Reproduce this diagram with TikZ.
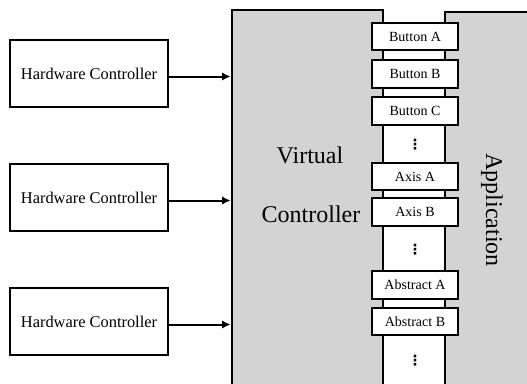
\documentclass[tikz,border=0pt]{standalone}
\usepackage{fontspec}
\setmainfont{Liberation Serif}
\newfontfamily\dotsfont{DejaVu Sans}
\usetikzlibrary{arrows.meta}
\definecolor{panelgray}{RGB}{211,211,211}
\tikzset{
    hwbox/.style = {
        draw,
        line width      = 2.8pt,
        inner sep       = 0pt,
        outer sep       = 0pt,
        minimum width   = 158pt,
        minimum height  = 67pt,
        font            = \fontsize{16.4}{18}\selectfont,
    },
    slot/.style = {
        draw,
        fill            = white,
        line width      = 2pt,
        inner sep       = 0pt,
        minimum width   = 86pt,
        minimum height  = 27.5pt,
        font            = \fontsize{14}{16}\selectfont,
    },
    panel/.style = {
        draw            = black,
        fill            = panelgray,
        line width      = 2.5pt,
    },
    bigtext/.style = {
        anchor          = base,
        font            = \fontsize{24}{28}\selectfont,
    },
    more/.style = {
        inner sep       = 0pt,
        font            = \dotsfont\bfseries\fontsize{14}{16}\selectfont,
    }
}

\begin{document}
\begin{tikzpicture}[x=1pt, y=-1pt, >={Latex[length=8.5pt,width=8.5pt]}]
  % page size of the reference, the panels run off its bottom
  \path[use as bounding box] (0,0) rectangle (527,383);

  \coordinate (vc) at (232,10);
  \coordinate (app) at (445,12);
  \filldraw[panel] (232,395) -- (vc) -- (383,10) -- (383,395);
  \filldraw[panel] (445,395) -- (app) -- (540,12) -- (540,395);

  \node[bigtext] (virt) at (310,163) {Virtual};
  \node[bigtext] (ctrl) at (311,222) {Controller};
  \node[bigtext, rotate=-90] (appl) at (486,210) {Application};

  \node[hwbox] (hw1) at (89,73.5) {Hardware Controller};
  \node[hwbox] (hw2) at (89,197.5) {Hardware Controller};
  \node[hwbox] (hw3) at (89,321.5) {Hardware Controller};

  \draw[->, line width=2pt, shorten >=1.5pt]
    ([yshift=-3pt]hw1.east) -- ([yshift=-3pt]hw1.east -| vc);
  \draw[->, line width=2pt, shorten >=1.5pt]
    ([yshift=-3pt]hw2.east) -- ([yshift=-3pt]hw2.east -| vc);
  \draw[->, line width=2pt, shorten >=1.5pt]
    ([yshift=-3pt]hw3.east) -- ([yshift=-3pt]hw3.east -| vc);

  \node[slot] (btna) at (415,36.5) {Button A};
  \node[slot] (btnb) at (415,74) {Button B};
  \node[slot] (btnc) at (415,111) {Button C};
  \node[more] (dots1) at (415,145) {⋮};
  \node[slot] (axsa) at (415,176.5) {Axis A};
  \node[slot] (axsb) at (415,212) {Axis B};
  \node[more] (dots2) at (415,250) {⋮};
  \node[slot] (absa) at (415,285) {Abstract A};
  \node[slot] (absb) at (415,321.5) {Abstract B};
  \node[more] (dots3) at (415,361) {⋮};
\end{tikzpicture}
\end{document}
